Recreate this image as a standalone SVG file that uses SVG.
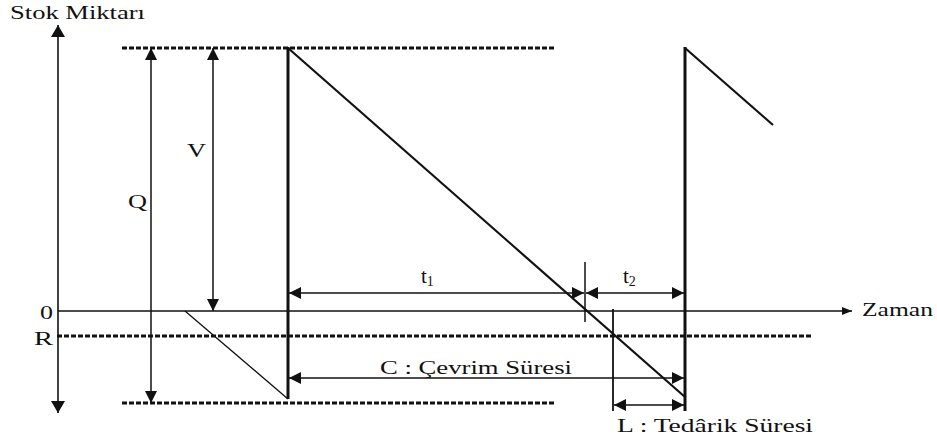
<svg xmlns="http://www.w3.org/2000/svg" width="937" height="443" viewBox="0 0 937 443">
<style>
.lbl{font-family:'Liberation Serif','DejaVu Serif',serif;font-size:18px;font-weight:normal;fill:#111}
.ax{stroke:#111;stroke-width:1.6;fill:none}
.dim{stroke:#111;stroke-width:1.5;fill:none;marker-start:url(#ah);marker-end:url(#ah)}
.dot{stroke:#111;stroke-width:3.2;stroke-dasharray:5 2;fill:none}
.saw{stroke:#111;stroke-width:2.2;fill:none;stroke-linejoin:miter}
.thick{stroke:#111;stroke-width:3;fill:none}
</style>
<defs>
<marker id="ah" viewBox="0 0 12 12" refX="12" refY="6" markerWidth="12" markerHeight="12" markerUnits="userSpaceOnUse" orient="auto-start-reverse">
<path d="M0,0 L12,6 L0,12 Z" fill="#111"/>
</marker>
<marker id="big" viewBox="0 0 12 14" refX="12" refY="7" markerWidth="12" markerHeight="14" markerUnits="userSpaceOnUse" orient="auto-start-reverse">
<path d="M0,0 L12,7 L0,14 Z" fill="#111"/>
</marker>
<marker id="sm" viewBox="0 0 10 8" refX="10" refY="4" markerWidth="10" markerHeight="8" markerUnits="userSpaceOnUse" orient="auto">
<path d="M0,0 L10,4 L0,8 Z" fill="#111"/>
</marker>
</defs>
<g id="axes">
<line class="ax" x1="58" y1="25" x2="58" y2="413" marker-start="url(#big)" marker-end="url(#big)"/>
<line class="ax" x1="58" y1="311" x2="852" y2="311" marker-end="url(#sm)"/>
</g>
<g id="levels">
<line class="dot" x1="122" y1="48" x2="555" y2="48"/>
<line class="dot" x1="122" y1="403" x2="555" y2="403"/>
<line class="dot" x1="57" y1="336" x2="812" y2="336"/>
</g>
<g id="stock">
<line x1="185" y1="311" x2="288" y2="399" stroke="#111" stroke-width="1.3"/>
<line class="thick" x1="288" y1="399" x2="288" y2="47"/>
<line class="saw" x1="288" y1="48" x2="685" y2="397"/>
<line class="thick" x1="685" y1="411" x2="685" y2="47"/>
<line class="saw" x1="685" y1="48" x2="773" y2="125"/>
</g>
<g id="ticks">
<line x1="585" y1="262" x2="585" y2="322" stroke="#111" stroke-width="1.5"/>
<line x1="613" y1="309" x2="613" y2="411" stroke="#111" stroke-width="1.8"/>
</g>
<g id="connectors">
<line class="dim" x1="151" y1="48" x2="151" y2="403"/>
<line class="dim" x1="213" y1="48" x2="213" y2="311"/>
<line class="dim" x1="289" y1="293" x2="584" y2="293"/>
<line class="dim" x1="586" y1="293" x2="684" y2="293"/>
<line class="dim" x1="289" y1="378" x2="684" y2="378"/>
<line class="dim" x1="614" y1="405" x2="684" y2="405"/>
</g>
<g id="labels" font-family="Liberation Serif, DejaVu Serif, serif">
<text class="lbl" x="10" y="19" textLength="135" lengthAdjust="spacingAndGlyphs">Stok Miktarı</text>
<text class="lbl" x="862" y="316" textLength="71" lengthAdjust="spacingAndGlyphs">Zaman</text>
<text class="lbl" x="40" y="319" textLength="13" lengthAdjust="spacingAndGlyphs">0</text>
<text class="lbl" x="34" y="345" textLength="19" lengthAdjust="spacingAndGlyphs">R</text>
<text class="lbl" x="128" y="208" textLength="19" lengthAdjust="spacingAndGlyphs">Q</text>
<text class="lbl" x="187" y="157" textLength="19" lengthAdjust="spacingAndGlyphs">V</text>
<text class="lbl" x="421" y="283" style="font-size:21px">t<tspan style="font-size:14px" dy="3">1</tspan></text>
<text class="lbl" x="623" y="283" style="font-size:21px">t<tspan style="font-size:14px" dy="3">2</tspan></text>
<text class="lbl" x="380" y="374" textLength="192" lengthAdjust="spacingAndGlyphs">C : Çevrim Süresi</text>
<text class="lbl" x="617" y="432" textLength="196" lengthAdjust="spacingAndGlyphs">L : Tedârik Süresi</text>
</g>
</svg>
